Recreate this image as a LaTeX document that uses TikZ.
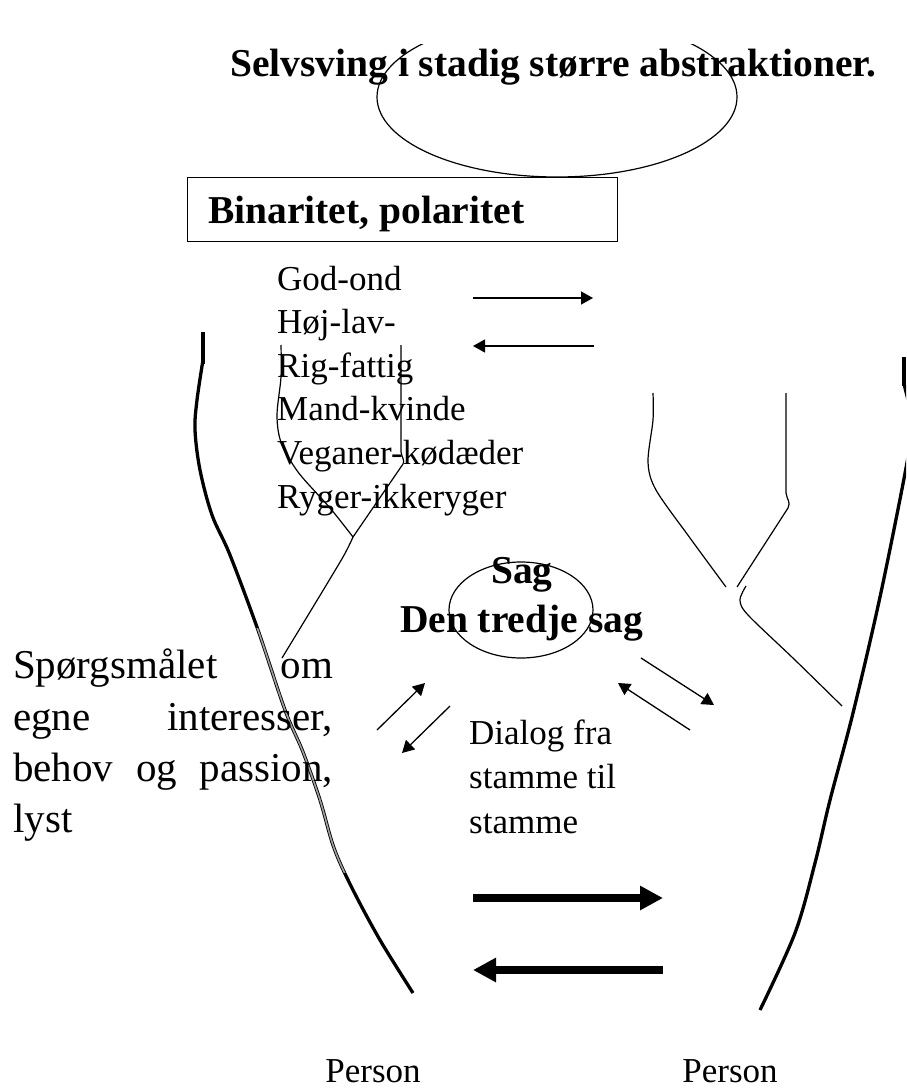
\documentclass[tikz,border=0pt]{standalone}
\usepackage{fontspec}
\setmainfont{Liberation Serif}
\usetikzlibrary{arrows.meta,shapes.geometric}
\begin{document}
\begin{tikzpicture}[x=1pt,y=-1pt,
  reg/.style={inner sep=0pt, anchor=base west, font=\fontsize{35}{43.6}\selectfont},
  para/.style={inner sep=0pt, anchor=base west, font=\fontsize{41}{51}\selectfont},
  bld/.style={inner sep=0pt, font=\bfseries\fontsize{39.5}{44}\selectfont},
  thinline/.style={line width=1.2pt},
  trunkline/.style={line width=3.3pt, line cap=butt},
  blob/.style={line width=4.5pt},
  tarrow/.style={line width=1.3pt, -{Triangle[length=12pt,width=13pt]}},
  barrow/.style={line width=8pt, -{Triangle[length=23pt,width=23pt]}}]
\useasboundingbox (0,0) rectangle (906,1089);
\clip (0,0) rectangle (906,1089);

% top ellipse (upper part hidden)
\begin{scope}
\clip (0,45) rectangle (906,300);
\node[draw, thinline, ellipse, minimum width=360pt, minimum height=160pt, inner sep=0pt] (topell) at (557,97) {};
\end{scope}
\node[bld, anchor=base west] (title) at (230,77) {Selvsving i stadig større abstraktioner.};

% box
\node[draw, line width=1.3pt, minimum width=430pt, minimum height=64pt, inner sep=0pt, anchor=north west] (box) at (187,177) {};
\node[bld, anchor=base west] (boxtext) at (208,223) {Binaritet, polaritet};

% list
\node[reg] (l1) at (277,290) {God-ond};
\node[reg] (l2) at (277,333.6) {Høj-lav-};
\node[reg] (l3) at (277,377.2) {Rig-fattig};
\node[reg] (l4) at (277,420.8) {Mand-kvinde};
\node[reg] (l5) at (277,464.4) {Veganer-kødæder};
\node[reg] (l6) at (277,508) {Ryger-ikkeryger};

% small arrows near list
\coordinate (ra1) at (473,298); \coordinate (ra2) at (593,298);
\coordinate (la1) at (594,346); \coordinate (la2) at (473,346);
\draw[tarrow] (ra1) -- (ra2);
\draw[tarrow] (la1) -- (la2);

% left trunk
\draw[blob] (203,332) -- (203,364);
\draw[trunkline] plot[smooth, tension=0.55] coordinates {(203,360) (197,400) (195,430) (200,470) (212,515) (230,555) (258,630) (285,710) (303,752) (320,800) (334,848) (352,888) (380,940) (413,993)};
\begin{scope}
\clip (0,628) rectangle (906,872);
\draw[line width=1.6pt, gray!75] plot[smooth, tension=0.55] coordinates {(203,360) (197,400) (195,430) (200,470) (212,515) (230,555) (258,630) (285,710) (303,752) (320,800) (334,848) (352,888) (380,940) (413,993)};
\end{scope}

% right trunk
\draw[blob] (904,357) -- (904,386);
\draw[trunkline] plot[smooth, tension=0.55] coordinates {(904,384) (912,425) (906,468) (880,597) (853,713) (830,800) (815,863) (795,933) (760,1010)};

% left branch
\draw[thinline] plot[smooth, tension=0.5] coordinates {(281,345) (281,377) (277,415) (281,442) (298,472) (330,508) (353,537)};
\draw[thinline] (401,345) -- (401,452) .. controls (402,458) and (405,460) .. (403,464) -- (353,537);
\draw[thinline] plot[smooth, tension=0.5] coordinates {(353,537) (343,557) (313,607) (282,658)};

% right branch
\draw[thinline] plot[smooth, tension=0.5] coordinates {(653,393) (653,420) (648,462) (656,490) (690,538) (726,587)};
\draw[thinline] (786,393) -- (786,493) .. controls (787,500) and (791,502) .. (788,508) -- (737,587);
\draw[thinline] plot[smooth, tension=0.5] coordinates {(746,586) (740,600) (748,615) (795,660) (842,706)};

% central ellipse
\node[draw, thinline, ellipse, minimum width=144pt, minimum height=96pt, inner sep=0pt] (sagell) at (521,610) {};
\node[bld, anchor=base] (sag) at (522,583) {Sag};
\node[bld, anchor=base] (tredje) at (521.5,632) {Den tredje sag};

% diagonal arrows
\coordinate (a1) at (377,730); \coordinate (a2) at (425,683);
\coordinate (b1) at (450,706); \coordinate (b2) at (402,753);
\coordinate (c1) at (690,730); \coordinate (c2) at (618,683);
\coordinate (d1) at (641,658); \coordinate (d2) at (714,705);
\draw[tarrow] (a1) -- (a2);
\draw[tarrow] (b1) -- (b2);
\draw[tarrow] (c1) -- (c2);
\draw[tarrow] (d1) -- (d2);

% dialog text
\node[reg] (dl1) at (469,744) {Dialog fra};
\node[reg] (dl2) at (469,788.5) {stamme til};
\node[reg] (dl3) at (469,833) {stamme};

% paragraph
\node[para] (p1) at (13,678) {\hbox to 320pt{Spørgsmålet\hfill om}};
\node[para] (p2) at (13,730) {\hbox to 320pt{egne\hfill interesser,}};
\node[para] (p3) at (13,781) {\hbox to 320pt{behov\hfill og\hfill passion,}};
\node[para] (p4) at (13,832) {lyst};

% thick arrows
\coordinate (t1) at (473,898); \coordinate (t2) at (663,898);
\coordinate (u1) at (663,970); \coordinate (u2) at (473,970);
\draw[barrow] (t1) -- (t2);
\draw[barrow] (u1) -- (u2);

% persons
\node[reg, anchor=base] (pers1) at (373,1082) {Person};
\node[reg, anchor=base] (pers2) at (730,1082) {Person};
\end{tikzpicture}
\end{document}
